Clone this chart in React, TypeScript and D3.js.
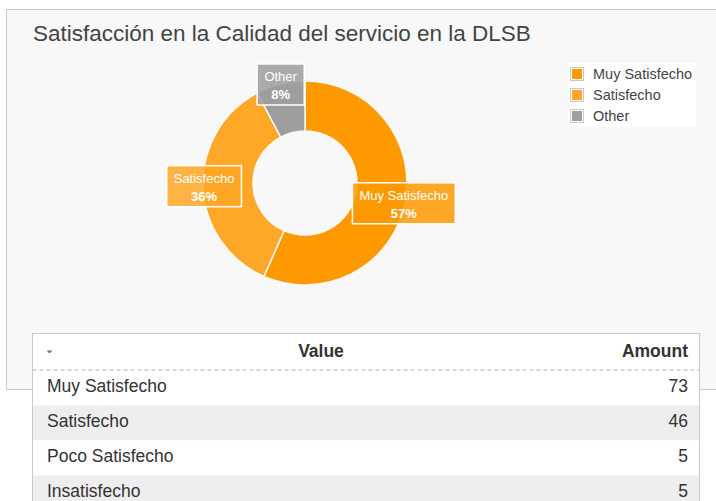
import { useEffect, useRef } from 'react';
import * as d3 from 'd3';

// table data
const categories: string[] = ['Muy Satisfecho', 'Satisfecho', 'Poco Satisfecho', 'Insatisfecho'];
const amounts: number[] = [73, 46, 5, 5];

// slices shown in the donut (small ones grouped into "Other")
const sliceNames: string[] = ['Muy Satisfecho', 'Satisfecho', 'Other'];
const sliceColors: string[] = ['#ff9900', '#ffa726', '#9e9e9e'];

const title = 'Satisfacción en la Calidad del servicio en la DLSB';

interface Slice {
  name: string;
  value: number;
}

const App: React.FC = () => {
  const svgRef = useRef<SVGSVGElement | null>(null);

  useEffect(() => {
    if (!svgRef.current) return;

    const width = 716;
    const height = 501;
    const font = '"Liberation Sans", Arial, sans-serif';

    const total = d3.sum(amounts);
    const slices: Slice[] = sliceNames.map((name) => {
      const idx = categories.indexOf(name);
      if (idx >= 0) return { name, value: amounts[idx] };
      const rest = categories.filter((c) => !sliceNames.includes(c));
      return { name, value: d3.sum(rest, (c) => amounts[categories.indexOf(c)]) };
    });

    const color = d3.scaleOrdinal<string, string>().domain(sliceNames).range(sliceColors);

    const svg = d3.select(svgRef.current);
    svg.selectAll('*').remove();

    svg.append('rect').attr('width', width).attr('height', height).attr('fill', '#ffffff');

    // panel
    svg
      .append('rect')
      .attr('x', 6.5)
      .attr('y', 9.5)
      .attr('width', 720)
      .attr('height', 380)
      .attr('fill', '#f8f8f8')
      .attr('stroke', '#c5c9d3');

    svg
      .append('text')
      .attr('x', 33)
      .attr('y', 41)
      .attr('font-family', font)
      .attr('font-size', 22.5)
      .attr('fill', '#444')
      .text(title);

    // donut
    const cx = 305;
    const cy = 183;
    const outerR = 102;
    const innerR = 52;

    const pie = d3
      .pie<Slice>()
      .sort(null)
      .value((d) => d.value);
    const arcs = pie(slices);
    const arc = d3.arc<d3.PieArcDatum<Slice>>().innerRadius(innerR).outerRadius(outerR);
    const labelArc = d3.arc<d3.PieArcDatum<Slice>>().innerRadius(outerR - 1).outerRadius(outerR - 1);

    const g = svg.append('g').attr('transform', `translate(${cx},${cy})`);
    g.selectAll('path')
      .data(arcs)
      .enter()
      .append('path')
      .attr('d', arc)
      .attr('fill', (d) => color(d.data.name))
      .attr('stroke', '#f8f8f8')
      .attr('stroke-width', 1.5);

    const labels = g
      .selectAll('g.lbl')
      .data(arcs)
      .enter()
      .append('g')
      .attr('class', 'lbl')
      .attr('transform', (d) => `translate(${labelArc.centroid(d)})`);

    labels.each(function (d) {
      const lg = d3.select(this);
      const box = lg.append('rect');
      const t = lg
        .append('text')
        .attr('text-anchor', 'middle')
        .attr('font-family', font)
        .attr('font-size', 13)
        .attr('fill', '#ffffff');
      t.append('tspan').attr('x', 0).attr('y', -4).text(d.data.name);
      t.append('tspan')
        .attr('x', 0)
        .attr('y', 14)
        .attr('font-weight', 'bold')
        .text(`${Math.round((d.data.value / total) * 100)}%`);
      const w = (t.node() as SVGTextElement).getBBox().width + 14;
      box
        .attr('x', -w / 2)
        .attr('y', -21)
        .attr('width', w)
        .attr('height', 41)
        .attr('fill', color(d.data.name))
        .attr('fill-opacity', 0.85)
        .attr('stroke', '#ffffff')
        .attr('stroke-width', 1.5);
    });

    // legend
    const legend = svg.append('g').attr('transform', 'translate(568,63)');
    legend.append('rect').attr('width', 128).attr('height', 64).attr('fill', '#ffffff');
    const items = legend
      .selectAll('g')
      .data(sliceNames)
      .enter()
      .append('g')
      .attr('transform', (_, i) => `translate(2,${4 + i * 21})`);
    items
      .append('rect')
      .attr('x', 0.5)
      .attr('y', 0.5)
      .attr('width', 13)
      .attr('height', 13)
      .attr('fill', '#ffffff')
      .attr('stroke', '#c8c8c8');
    items
      .append('rect')
      .attr('x', 2)
      .attr('y', 2)
      .attr('width', 10)
      .attr('height', 10)
      .attr('fill', (d) => color(d));
    items
      .append('text')
      .attr('x', 23)
      .attr('y', 12)
      .attr('font-family', font)
      .attr('font-size', 14.5)
      .attr('fill', '#444')
      .text((d) => d);

    // table
    const tx = 32.5;
    const ty = 333.5;
    const tw = 667;
    const headH = 37;
    const rowH = 35;

    const table = svg.append('g');
    table
      .append('rect')
      .attr('x', tx)
      .attr('y', ty)
      .attr('width', tw)
      .attr('height', headH + rowH * categories.length)
      .attr('fill', '#ffffff')
      .attr('stroke', '#c5c9d3');

    table
      .append('path')
      .attr('d', 'M0,0 L6,0 L3,3 Z')
      .attr('transform', `translate(${tx + 14},${ty + 17})`)
      .attr('fill', '#777');
    table
      .append('text')
      .attr('x', 321)
      .attr('y', ty + 23)
      .attr('text-anchor', 'middle')
      .attr('font-family', font)
      .attr('font-size', 17.5)
      .attr('font-weight', 'bold')
      .attr('fill', '#333')
      .text('Value');
    table
      .append('text')
      .attr('x', 688)
      .attr('y', ty + 23)
      .attr('text-anchor', 'end')
      .attr('font-family', font)
      .attr('font-size', 17.5)
      .attr('font-weight', 'bold')
      .attr('fill', '#333')
      .text('Amount');

    const rows = table
      .selectAll('g.row')
      .data(categories)
      .enter()
      .append('g')
      .attr('class', 'row')
      .attr('transform', (_, i) => `translate(0,${ty + headH + i * rowH})`);
    rows
      .append('rect')
      .attr('x', tx + 0.5)
      .attr('y', 0)
      .attr('width', tw - 1)
      .attr('height', rowH)
      .attr('fill', (_, i) => (i % 2 === 1 ? '#eeeeee' : '#ffffff'));
    rows
      .append('text')
      .attr('x', 47)
      .attr('y', 21)
      .attr('font-family', font)
      .attr('font-size', 17.5)
      .attr('fill', '#333')
      .text((d) => d);
    rows
      .append('text')
      .attr('x', 688)
      .attr('y', 21)
      .attr('text-anchor', 'end')
      .attr('font-family', font)
      .attr('font-size', 17.5)
      .attr('fill', '#333')
      .text((_, i) => amounts[i]);

    table
      .append('line')
      .attr('x1', tx)
      .attr('x2', tx + tw)
      .attr('y1', ty + headH - 0.5)
      .attr('y2', ty + headH - 0.5)
      .attr('stroke', '#a8adb8')
      .attr('stroke-dasharray', '4,3');
  }, []);

  return (
    <svg
      ref={svgRef}
      width={716}
      height={501}
      style={{ position: 'absolute', left: 0, top: 0 }}
    ></svg>
  );
};

export default App;
